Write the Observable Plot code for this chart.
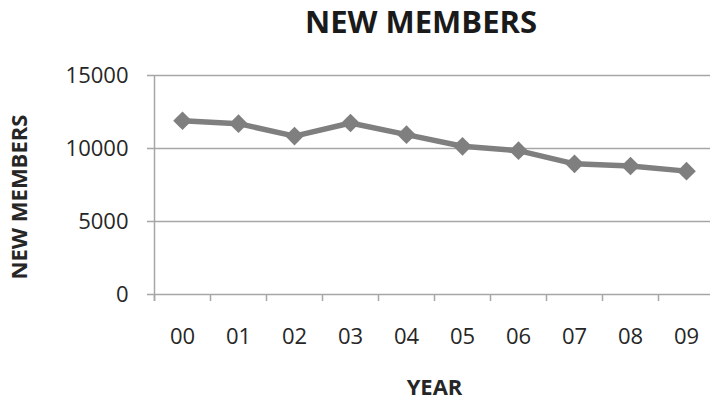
<!DOCTYPE html>
<html><head><meta charset="utf-8">
<script src="https://cdn.jsdelivr.net/npm/d3@7"></script>
<script src="https://cdn.jsdelivr.net/npm/@observablehq/plot@0.6"></script>
<style>
body{margin:0;background:#fff;overflow:hidden}
#wrap{position:relative;width:710px;height:400px;overflow:hidden;background:#fff}
#wrap svg{position:absolute;left:0;top:0}
#title{position:absolute;top:0;left:421px;transform:translateX(-50%);font-family:"Open Sans";font-weight:bold;font-size:31px;line-height:43px;color:#1a1a1a;white-space:nowrap;z-index:2}
</style></head><body>
<div id="wrap"><div id="title"></div></div>
<script>
// ---- data ----
const chartTitle = "NEW MEMBERS";
const xTitle = "YEAR";
const yTitle = "NEW MEMBERS";
const years = ["00", "01", "02", "03", "04", "05", "06", "07", "08", "09"];
const members = [11900, 11700, 10850, 11750, 10950, 10150, 9850, 8950, 8800, 8450];
const yTicks = [0, 5000, 10000, 15000];

const data = years.map((year, i) => ({year, members: members[i]}));
const grey = "#7f7f7f", axisGrey = "#a6a6a6", ink = "#262626";

document.getElementById("title").textContent = chartTitle;

const chart = Plot.plot({
  width: 710,
  height: 400,
  marginTop: 75,
  marginBottom: 106,
  marginLeft: 154,
  marginRight: -4,
  style: {fontFamily: "Open Sans", fontSize: "22px", color: ink, background: "white"},
  x: {type: "point", domain: years, padding: 0.5},
  y: {domain: [0, 15000]},
  marks: [
    Plot.gridY(yTicks.slice(1), {stroke: axisGrey, strokeOpacity: 1, strokeWidth: 1.5}),
    Plot.ruleY([0], {stroke: axisGrey, strokeWidth: 1.5}),
    Plot.ruleX([years[0]], {dx: -28, insetBottom: -7, stroke: axisGrey, strokeWidth: 1.5}),
    Plot.axisY(yTicks, {tickSize: 7, tickPadding: 19, tickFormat: d3.format("d"), stroke: axisGrey, strokeWidth: 1.5, strokeOpacity: 1, fill: ink, label: null, fontSize: 22}),
    Plot.axisX({tickSize: 7, dx: -28, text: null, stroke: axisGrey, strokeWidth: 1.5, strokeOpacity: 1, label: null}),
    Plot.axisX({tickSize: 0, tickPadding: 34, fill: ink, label: null, fontSize: 22}),
    Plot.text([xTitle], {frameAnchor: "bottom", dy: 93.5, lineAnchor: "middle", textAnchor: "middle", fontWeight: "bold", fontSize: 22, fill: ink}),
    Plot.text([yTitle], {frameAnchor: "left", rotate: -90, dx: -135, dy: 12, lineAnchor: "middle", textAnchor: "middle", fontWeight: "bold", fontSize: 22, fill: ink}),
    Plot.line(data, {x: "year", y: "members", stroke: grey, strokeWidth: 5.5}),
    Plot.dot(data, {x: "year", y: "members", symbol: "diamond2", r: 8.4, fill: grey})
  ]
});
document.getElementById("wrap").appendChild(chart);
</script>
</body></html>
